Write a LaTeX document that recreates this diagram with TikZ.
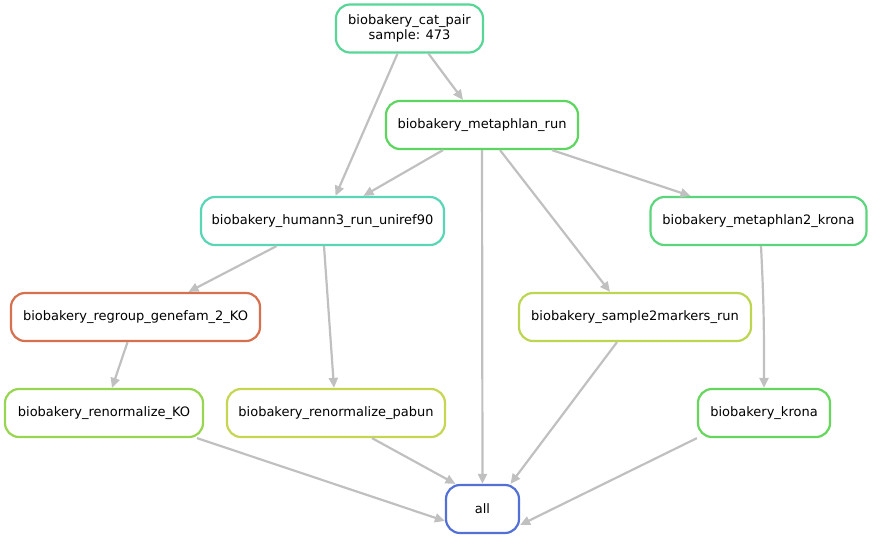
\documentclass[tikz,border=0pt]{standalone}
\usepackage{fontspec}
\setmainfont{DejaVu Sans}
\usetikzlibrary{arrows.meta}
\definecolor{ccat}{HTML}{58D698}
\definecolor{cmrun}{HTML}{5CD65E}
\definecolor{chum}{HTML}{58D6B6}
\definecolor{cmkr}{HTML}{5CD67C}
\definecolor{ckro}{HTML}{66D65C}
\definecolor{creg}{HTML}{D6704E}
\definecolor{cko}{HTML}{98D652}
\definecolor{cpab}{HTML}{C6D652}
\definecolor{cs2m}{HTML}{BCD652}
\definecolor{call}{HTML}{5270D6}
\definecolor{edgec}{HTML}{C0C0C0}
\tikzset{
  rule/.style={draw=#1, line width=2.2pt, rounded corners=14pt, fill=white,
    minimum height=48pt, inner sep=0pt, align=center,
    font=\fontsize{13}{15}\selectfont},
  link/.style={draw=edgec, line width=2.2pt,
    -{Triangle[length=10pt,width=9pt,fill=edgec]}},
}
\begin{document}
\begin{tikzpicture}[x=1pt,y=-1pt]
\useasboundingbox (0,0) rectangle (872,539);
\node[rule=ccat, minimum width=147pt] (cat) at (409.5,28.5) {biobakery\_cat\_pair\\[0pt]sample: 473};
\node[rule=cmrun, minimum width=192pt] (mrun) at (482,125) {biobakery\_metaphlan\_run};
\node[rule=chum, minimum width=243pt] (hum) at (322.5,221) {biobakery\_humann3\_run\_uniref90};
\node[rule=cmkr, minimum width=216pt] (mkr) at (758.5,221) {biobakery\_metaphlan2\_krona};
\node[rule=creg, minimum width=249pt] (reg) at (135.5,317) {biobakery\_regroup\_genefam\_2\_KO};
\node[rule=cs2m, minimum width=232pt] (s2m) at (635,317) {biobakery\_sample2markers\_run};
\node[rule=cko, minimum width=198pt] (ko) at (104,413) {biobakery\_renormalize\_KO};
\node[rule=cpab, minimum width=218pt] (pab) at (336,413) {biobakery\_renormalize\_pabun};
\node[rule=ckro, minimum width=132pt] (kro) at (764,413) {biobakery\_krona};
\node[rule=call, minimum width=73pt] (all) at (482.5,509) {all};

\draw[link] ([xshift=19pt]cat.south) -- ([xshift=-19pt]mrun.north);
\draw[link] ([xshift=-12pt]cat.south) -- ([xshift=13pt]hum.north);
\draw[link] ([xshift=-39pt]mrun.south) -- ([xshift=41pt]hum.north);
\draw[link] (mrun.south) -- (all.north);
\draw[link] ([xshift=18pt]mrun.south) -- ([xshift=-25pt]s2m.north);
\draw[link] ([xshift=70pt]mrun.south) -- ([xshift=-68pt]mkr.north);
\draw[link] ([xshift=-46pt]hum.south) -- ([xshift=53pt]reg.north);
\draw[link] ([xshift=1.5pt]hum.south) -- ([xshift=-2pt]pab.north);
\draw[link] ([xshift=-8pt]reg.south) -- ([xshift=8pt]ko.north);
\draw[link] ([xshift=2.5pt]mkr.south) .. controls +(3,60) and +(0,-60) .. (kro.north);
\draw[link] ([xshift=-18pt]s2m.south) -- ([xshift=28pt]all.north);
\draw[link] ([xshift=93pt]ko.south) -- ([yshift=-12pt]all.west);
\draw[link] ([xshift=36pt]pab.south) -- ([xshift=-27pt]all.north);
\draw[link] (kro.south west) -- ([yshift=-16pt]all.east);
\end{tikzpicture}
\end{document}
